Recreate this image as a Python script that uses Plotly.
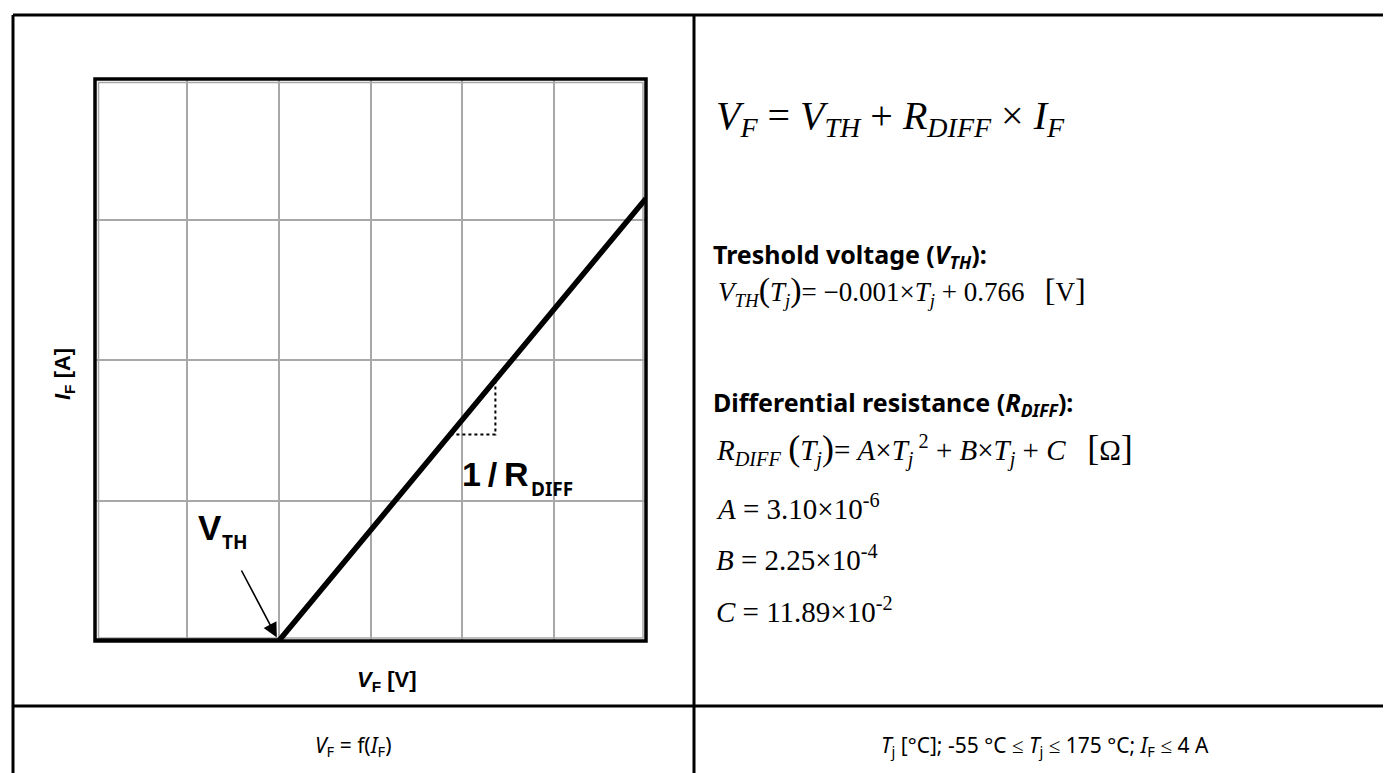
import plotly.graph_objects as go

# ---- data (schematic forward characteristic) ----
vf_points = [0, 2, 6]          # V_F, grid units (V_TH at 2)
if_points = [0, 0, 3.15]       # I_F, grid units
slope_tri_x = [3.87, 4.36, 4.36]   # 1/R_DIFF slope triangle
slope_tri_y = [1.47, 1.47, 1.855]
vth_point = (2, 0)
x_range = [0, 6]
y_range = [0, 4]

W, H = 1391, 773
def px(x): return x / W
def py(y): return 1 - y / H

fig = go.Figure()
fig.add_trace(go.Scatter(x=vf_points, y=if_points, mode="lines",
                         line=dict(color="black", width=5.5), cliponaxis=False,
                         hoverinfo="skip", showlegend=False))
fig.add_trace(go.Scatter(x=slope_tri_x, y=slope_tri_y, mode="lines",
                         line=dict(color="black", width=2, dash="dot"),
                         hoverinfo="skip", showlegend=False))

fig.update_xaxes(domain=[px(87), px(638)], range=x_range, dtick=1,
                 showgrid=True, gridcolor="#a8a8a8", gridwidth=1.5,
                 showticklabels=False, zeroline=False, ticks="")
fig.update_yaxes(domain=[py(633), py(71)], range=y_range, dtick=1,
                 showgrid=True, gridcolor="#a8a8a8", gridwidth=1.5,
                 showticklabels=False, zeroline=False, ticks="")

shapes = []
# inner gray frame of the chart picture
shapes.append(dict(type="rect", xref="paper", yref="paper", x0=px(90.5), x1=px(635), y0=py(630), y1=py(74.5),
                   line=dict(color="#a8a8a8", width=1.5), layer="below"))
shapes.append(dict(type="rect", xref="x domain", yref="y domain", x0=0, x1=1, y0=0, y1=1,
                   line=dict(color="black", width=3.5), layer="above"))
L = dict(color="black", width=3)
shapes.append(dict(type="line", xref="paper", yref="paper", x0=px(5), x1=px(1388), y0=py(7), y1=py(7), line=L))
shapes.append(dict(type="line", xref="paper", yref="paper", x0=px(5), x1=px(5), y0=py(7), y1=py(780), line=L))
shapes.append(dict(type="line", xref="paper", yref="paper", x0=px(1388), x1=px(1388), y0=py(7), y1=py(780), line=L))
shapes.append(dict(type="line", xref="paper", yref="paper", x0=px(686), x1=px(686), y0=py(7), y1=py(780), line=L))
shapes.append(dict(type="line", xref="paper", yref="paper", x0=px(5), x1=px(1388), y0=py(698), y1=py(698), line=L))
fig.update_layout(shapes=shapes)

SANS = "Liberation Sans"
SERIF = "Liberation Serif"
HEAD = "Noto Sans"
ann = []
def A(text, x, y, size, family, xanchor="left", **kw):
    d = dict(text=text, x=px(x), y=py(y), xref="paper", yref="paper", showarrow=False,
             xanchor=xanchor, yanchor="middle", font=dict(size=size, family=family, color="black"))
    d.update(kw)
    ann.append(d)

# chart labels
A("<b>V</b>", 188, 519, 35, SANS)
A("<b>TH</b>", 212, 534, 19, HEAD)
A("<b>1\u2009/\u2009R</b>", 452, 466, 34, SANS)
A("<b>DIFF</b>", 521, 481, 19, HEAD)
A("<b><i>I</i><sub>F</sub> [A]</b>", 56, 366, 22, SANS, xanchor="center", textangle=-90)
A("<b><i>V</i><sub>F</sub> [V]</b>", 379, 673, 22, SANS, xanchor="center")

# arrow to V_TH
ann.append(dict(x=vth_point[0], y=vth_point[1], xref="x", yref="y", ax=-38, ay=-72,
                axref="pixel", ayref="pixel", showarrow=True, arrowhead=2, arrowsize=1.8,
                arrowwidth=1.6, arrowcolor="black", text="", standoff=4))

BIGP = "<span style='font-size:%dpx'>%s</span>"
# right-side equations
A("<i>V</i><sub><i>F</i></sub> = <i>V</i><sub><i>TH</i></sub> + <i>R</i><sub><i>DIFF</i></sub> × <i>I</i><sub><i>F</i></sub>",
  706, 110, 40, SERIF)
A("<b>Treshold voltage (<i>V<sub>TH</sub></i>):</b>", 703, 247, 25, HEAD)
A("<i>V</i><sub><i>TH</i></sub>" + BIGP % (34, "(") + "<i>T</i><sub><i>j</i></sub>" + BIGP % (34, ")")
  + "= −0.001×<i>T</i><sub><i>j</i></sub> + 0.766   " + BIGP % (32, "[") + "V" + BIGP % (32, "]"),
  708, 283, 27, SERIF)
A("<b>Differential resistance (<i>R<sub>DIFF</sub></i>):</b>", 703, 395, 25, HEAD)
A("<i>R</i><sub><i>DIFF</i></sub> " + BIGP % (36, "(") + "<i>T</i><sub><i>j</i></sub>" + BIGP % (36, ")")
  + "= <i>A</i>×<i>T</i><sub><i>j</i></sub><sup> 2</sup> + <i>B</i>×<i>T</i><sub><i>j</i></sub> + <i>C</i>   "
  + BIGP % (36, "[") + "Ω" + BIGP % (36, "]"),
  706, 441, 29, SERIF)
A("<i>A</i> = 3.10×10<sup>-6</sup>", 706, 499, 29, SERIF)
A("<i>B</i> = 2.25×10<sup>-4</sup>", 706, 550, 29, SERIF)
A("<i>C</i> = 11.89×10<sup>-2</sup>", 706, 602, 29, SERIF)

# captions
A("<i>V</i><sub>F</sub> = f(<i>I</i><sub>F</sub>)", 345, 738, 21, HEAD, xanchor="center")
A("<i>T</i><sub>j</sub> [°C]; -55 °C ≤ <i>T</i><sub>j</sub> ≤ 175 °C; <i>I</i><sub>F</sub> ≤ 4 A", 1037, 738, 21, HEAD, xanchor="center")

fig.update_layout(annotations=ann, width=W, height=H, margin=dict(l=0, r=0, t=0, b=0),
                  paper_bgcolor="white", plot_bgcolor="white", showlegend=False)
fig.write_html("out.html")
